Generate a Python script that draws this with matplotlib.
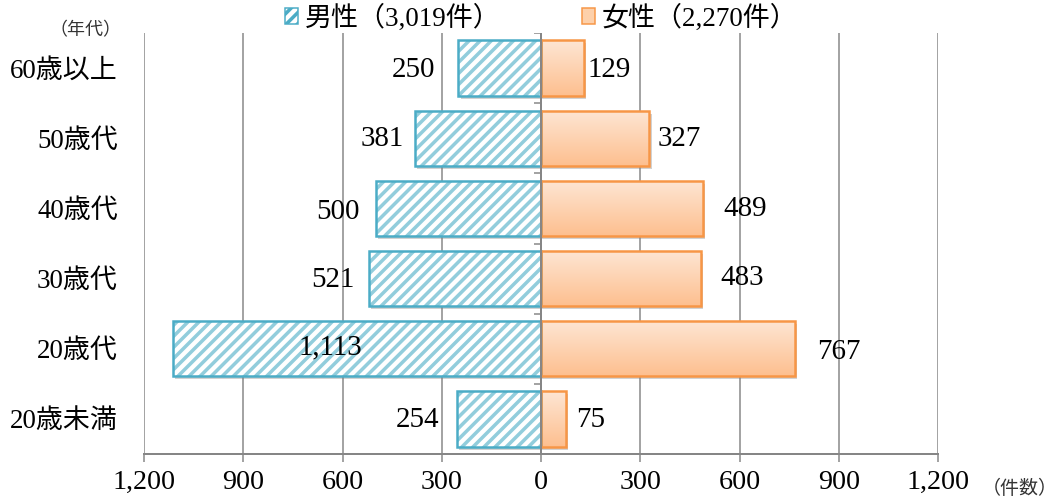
import matplotlib
matplotlib.use('Agg')
import matplotlib.pyplot as plt
import numpy as np
from matplotlib.patches import Patch
import matplotlib.patheffects as pe
from matplotlib.colors import LinearSegmentedColormap

# ---- data ----
categories = ['20歳未満', '20歳代', '30歳代', '40歳代', '50歳代', '60歳以上']
male = [254, 1113, 521, 500, 381, 250]
female = [75, 767, 483, 489, 327, 129]
male_label = '男性（3,019件）'
female_label = '女性（2,270件）'
xticks = [-1200, -900, -600, -300, 0, 300, 600, 900, 1200]
xticklabels = ['1,200', '900', '600', '300', '0', '300', '600', '900', '1,200']
y_unit = '（年代）'
x_unit = '（件数）'

# ---- layout (pixels) ----
W, H = 1062, 504
DPI = 133
def pt(px):
    return px * 72 / DPI

male_dx = [-39, 158, -36, -38, -33, -45]
male_dy = [1, -1, 1, 4, 1, 2]
female_dx = [25, 44, 41, 42, 30, 26]
female_dy = [1, 3, -1, 1, 1, 2]

JP = ['Liberation Serif', 'Noto Sans CJK JP']
JP_SANS = ['Noto Sans CJK JP', 'DejaVu Sans']
GRAY = '#868686'
M_EDGE = '#4bacc6'
M_HATCH = '#92cddc'
F_EDGE = '#f79646'
NUM_PX = 28

plt.rcParams['hatch.linewidth'] = pt(3.5)

fig = plt.figure(figsize=(W / DPI, H / DPI), dpi=DPI)
ax = fig.add_axes([144 / W, 1 - 454 / H, (938 - 144) / W, (454 - 33) / H])
y = np.arange(len(categories))
bh = 0.79
male_neg = -np.array(male)

shadow = [pe.SimplePatchShadow(offset=(pt(2.5), -pt(3)), shadow_rgbFace='#7f7f7f', alpha=0.35), pe.Normal()]

# male bars: shadowed base, hatched layer, outline
mbase = ax.barh(y, male_neg, height=bh, color='white', linewidth=0, zorder=2)
for b in mbase:
    b.set_path_effects(shadow)
ax.barh(y, male_neg, height=bh, color='none', edgecolor=M_HATCH, linewidth=0,
        hatch='////', zorder=2.2)
ax.barh(y, male_neg, height=bh, fill=False, edgecolor=M_EDGE, linewidth=pt(2.5), zorder=3)

# female bars: base + gradient + outline
fb = ax.barh(y, female, height=bh, color='#fdd3b0', linewidth=0, zorder=2)
for b in fb:
    b.set_path_effects(shadow)
cmap = LinearSegmentedColormap.from_list('fgrad', ['#fee6d4', '#fdbf8f'])
grad = np.linspace(0, 1, 256).reshape(-1, 1)
for b in fb:
    x0, y0, w, h = b.get_x(), b.get_y(), b.get_width(), b.get_height()
    im = ax.imshow(grad, extent=(x0, x0 + w, y0, y0 + h), origin='upper', aspect='auto',
                   cmap=cmap, zorder=2.5, interpolation='bilinear')
    im.set_clip_path(b)
ax.barh(y, female, height=bh, fill=False, edgecolor=F_EDGE, linewidth=pt(2.5), zorder=3)

# value labels
for i, v in enumerate(male):
    ax.annotate(f'{v:,}', xy=(-v, y[i]), xytext=(pt(male_dx[i]), -pt(male_dy[i])),
                textcoords='offset points', ha='center', va='center',
                fontsize=pt(29), family=JP, zorder=5)
for i, v in enumerate(female):
    ax.annotate(f'{v:,}', xy=(v, y[i]), xytext=(pt(female_dx[i]), -pt(female_dy[i])),
                textcoords='offset points', ha='center', va='center',
                fontsize=pt(29), family=JP, zorder=5)

# center axis with boundary ticks
ax.axvline(0, color=GRAY, lw=pt(2), zorder=4)
ax.hlines(np.arange(-0.5, len(categories)), -22, 0, color=GRAY, lw=pt(1.5), zorder=4)

ax.set_xlim(xticks[0], xticks[-1])
ax.set_ylim(-0.5, len(categories) - 0.5)
ax.set_xticks(xticks)
ax.set_xticklabels(xticklabels, fontsize=pt(NUM_PX), family=JP)
ax.set_yticks(y)
ax.set_yticklabels(categories, fontsize=pt(27), family=JP)
ax.tick_params(axis='y', length=0, pad=pt(26))
ax.tick_params(axis='x', length=pt(8), width=pt(1.5), color=GRAY, pad=pt(8))
ax.grid(axis='x', color=GRAY, lw=pt(1.5), zorder=0)
ax.set_axisbelow(True)
for s in ['top', 'left', 'right']:
    ax.spines[s].set_visible(False)
ax.spines['bottom'].set_color(GRAY)
ax.spines['bottom'].set_linewidth(pt(2))

# legend
handles = [Patch(facecolor='white', edgecolor=M_EDGE, hatch='////', linewidth=pt(1.5)),
           Patch(facecolor='#fdd0aa', edgecolor=F_EDGE, linewidth=pt(1.5))]
fig.legend(handles, [male_label, female_label], loc='center', bbox_to_anchor=(541 / W, 1 - 18 / H),
           ncol=2, frameon=False, prop={'family': JP, 'size': pt(27)},
           handlelength=0.5, handleheight=0.5, handletextpad=0.25, columnspacing=3.0,
           borderpad=0, borderaxespad=0)

fig.text(122 / W, 1 - 30 / H, y_unit, ha='right', va='center', fontsize=pt(18), family=JP_SANS,
         color='#333333')
fig.text(1058 / W, 1 - 488 / H, x_unit, ha='right', va='center', fontsize=pt(19), family=JP_SANS,
         color='#333333')

fig.savefig('out.png', dpi=DPI)
